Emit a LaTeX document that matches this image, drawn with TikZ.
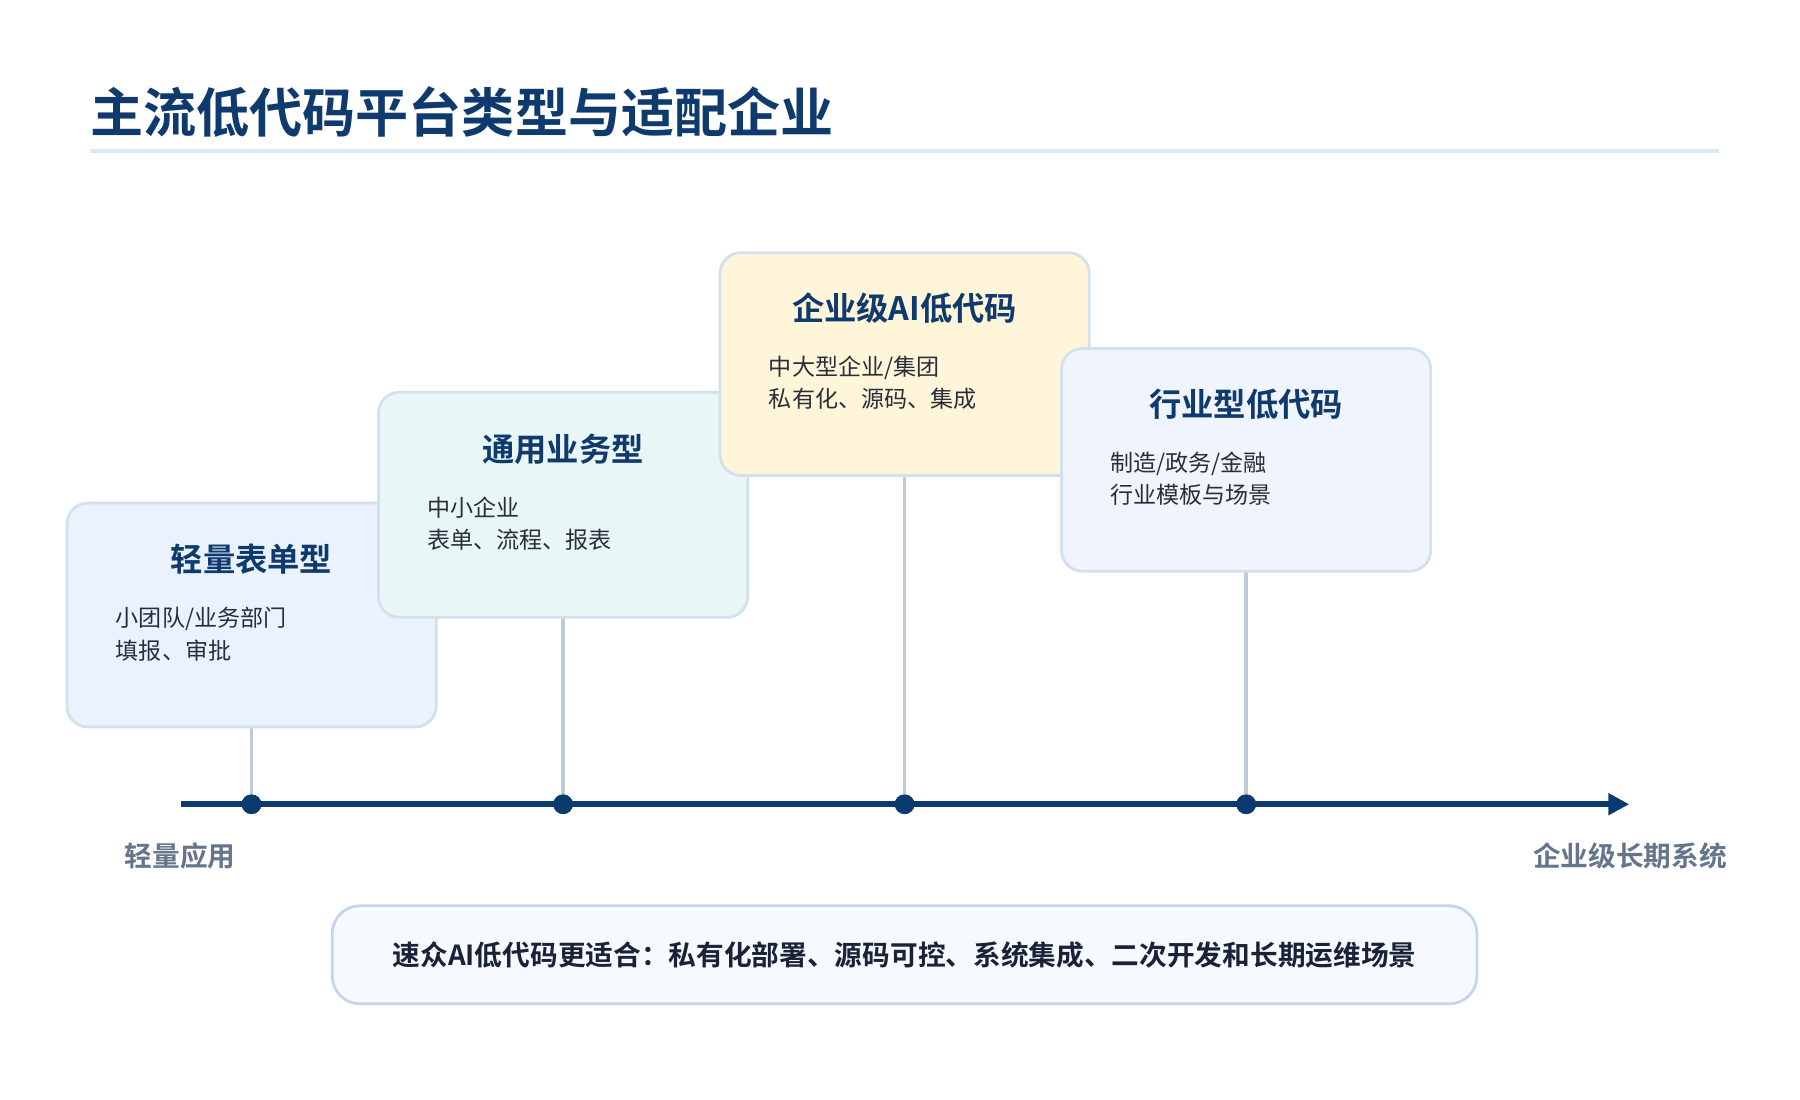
\documentclass[tikz,border=0pt]{standalone}
\usepackage{fontspec}
\usetikzlibrary{arrows.meta}
\setmainfont{Noto Sans CJK SC}
\newfontfamily\cjkb{Noto Sans CJK SC Bold}
\definecolor{navy}{HTML}{0F3A6E}
\definecolor{axis}{HTML}{0B3A6E}
\definecolor{stem}{HTML}{BFCBD9}
\definecolor{lbl}{HTML}{66758C}
\definecolor{fa}{HTML}{EAF3FD}
\definecolor{fb}{HTML}{E8F6F5}
\definecolor{fc}{HTML}{FFF6DA}
\definecolor{fd}{HTML}{EFF4FE}
\definecolor{bd}{HTML}{D3E1EE}
\definecolor{txt}{HTML}{2A2E3A}
\definecolor{ulc}{HTML}{DCE8F5}
\definecolor{nbd}{HTML}{C3D6EE}
\definecolor{nfill}{HTML}{F6FAFF}
\definecolor{ntxt}{HTML}{1A2238}
\begin{document}
\begin{tikzpicture}[x=0.5pt,y=-0.5pt,
 card/.style={draw=bd,line width=1.2pt,rounded corners=9pt},
 ctitle/.style={font=\cjkb\fontsize{14}{16}\selectfont,text=navy},
 cbody/.style={font=\fontsize{10}{14}\selectfont,text=txt,anchor=north west,align=left,inner sep=0pt},
 stemline/.style={stem,line width=1.5pt},
 dot/.style={circle,fill=axis,minimum size=8.5pt,inner sep=0pt}]
\useasboundingbox (0,0) rectangle (1560,953);
\node[anchor=west,inner sep=0pt,font=\cjkb\fontsize{23}{26}\selectfont,text=navy] (title) at (78,97) {主流低代码平台类型与适配企业};
\coordinate (ul1) at (78,131); \coordinate (ul2) at (1490,131);
\draw[ulc, line width=1.5pt] (ul1) -- (ul2);
% axis
\coordinate (a0) at (157,697); \coordinate (a1) at (1412,697);
\draw[axis,line width=2.6pt,-{Triangle[length=9pt,width=9pt]}] (a0) -- (a1);
\foreach \n/\x/\y in {A/218/630,B/488/535,C/784/412,D/1080/495}{
 \coordinate (s\n) at (\x,\y); \node[dot] (d\n) at (\x,697) {};
 \draw[stemline] (s\n) -- (d\n.center);
 \node[dot] at (\x,697) {};
}
% cards
\draw[card,fill=fa] (58,436) rectangle (378,630);
\node[ctitle] (tA) at (218,485) {轻量表单型};
\node[cbody] (bA) at (100,526) {小团队/业务部门\\填报、审批};
\draw[card,fill=fb] (328,340) rectangle (648,535);
\node[ctitle] (tB) at (488,389) {通用业务型};
\node[cbody] (bB) at (370,430) {中小企业\\表单、流程、报表};
\draw[card,fill=fc] (624,219) rectangle (944,412);
\node[ctitle] (tC) at (784,267) {企业级AI低代码};
\node[cbody] (bC) at (666,308) {中大型企业/集团\\私有化、源码、集成};
\draw[card,fill=fd] (920,302) rectangle (1240,495);
\node[ctitle] (tD) at (1080,350) {行业型低代码};
\node[cbody] (bD) at (962,391) {制造/政务/金融\\行业模板与场景};
% labels
\node[font=\cjkb\fontsize{12}{14}\selectfont,text=lbl] (l0) at (156,742) {轻量应用};
\node[font=\cjkb\fontsize{12}{14}\selectfont,text=lbl,anchor=east,inner sep=0pt] (l1) at (1497,742) {企业级长期系统};
\draw[draw=nbd,fill=nfill,line width=1.2pt,rounded corners=12pt] (288,785) rectangle (1280,870);
\node[font=\cjkb\fontsize{12}{14}\selectfont,text=ntxt] (note) at (784,828) {速众AI低代码更适合：私有化部署、源码可控、系统集成、二次开发和长期运维场景};
\end{tikzpicture}
\end{document}
